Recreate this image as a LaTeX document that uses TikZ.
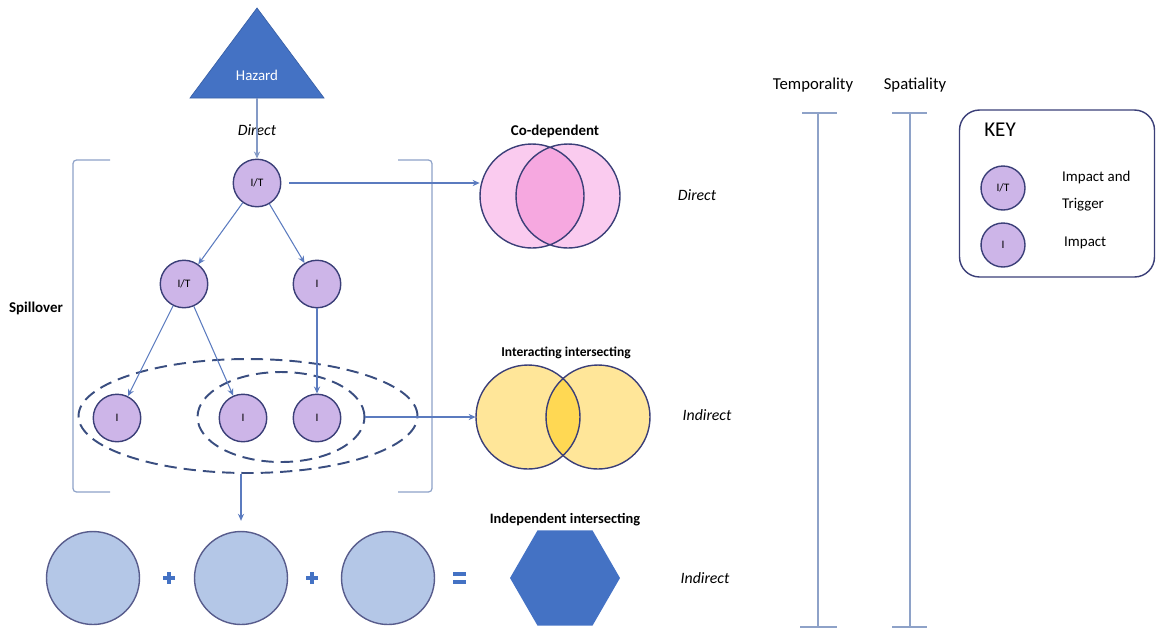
\documentclass[tikz,border=0pt]{standalone}
\usepackage{fontspec}
\setmainfont{Carlito}
\usetikzlibrary{positioning, arrows.meta, shapes.geometric}

\definecolor{hazardblue}{HTML}{4472C4}
\definecolor{linkblue}{HTML}{5B7BBF}
\definecolor{nodeedge}{HTML}{3B3F78}
\definecolor{groupedge}{HTML}{3A4E80}
\definecolor{lavender}{HTML}{CDB5E8}
\definecolor{pinklight}{HTML}{FACBEF}
\definecolor{pinkdark}{HTML}{F6A8E0}
\definecolor{yellowlight}{HTML}{FFE699}
\definecolor{yellowdark}{HTML}{FFD853}
\definecolor{paleblue}{HTML}{B4C7E7}
\definecolor{bracketgray}{HTML}{8EA2C8}

\tikzset{
  impact/.style={draw=nodeedge, fill=lavender, circle, minimum size=0.95cm, inner sep=0pt, line width=0.8pt, font=\fontsize{6.5}{7}\selectfont},
  link/.style={->, draw=linkblue, line width=0.6pt},
  venn/.style={circle, minimum size=2.08cm, inner sep=0pt},
  vennedge/.style={draw=nodeedge, line width=0.8pt},
  sumcircle/.style={circle, draw=nodeedge!85, fill=paleblue, minimum size=1.86cm, inner sep=0pt, line width=0.8pt},
  grouping/.style={draw=groupedge, ellipse, inner sep=0pt, line width=1.1pt, dash pattern=on 7pt off 4pt},
  bracket/.style={draw=bracketgray, line width=0.7pt},
  sign/.style={draw=hazardblue, line width=2.3pt},
  heading/.style={font=\bfseries\fontsize{8.5}{10}\selectfont},
  kind/.style={font=\itshape\fontsize{9}{10}\selectfont},
  scaletitle/.style={font=\fontsize{9.5}{11}\selectfont},
  keytext/.style={font=\fontsize{8.5}{15}\selectfont, align=left, anchor=west}
}

\begin{document}
\begin{tikzpicture}[>={Stealth[length=4pt, width=3.5pt]}, x=0.02cm, y=-0.02cm]
  \useasboundingbox (0,0) rectangle (1158,630);

  % Hazard
  \fill[hazardblue, draw=hazardblue!85!black, line width=0.4pt] (190,98) -- (257,8) -- (324,98) -- cycle;
  \node[text=white, font=\fontsize{8.5}{10}\selectfont] (hazard) at (257,75) {Hazard};
  \coordinate (hazardbase) at (257,98);
  \node[kind] (direct0) at (257,130) {Direct};

  % Impact tree
  \node[impact] (top) at (257,183) {I/T};
  \node[impact] (midT) at (184,284) {I/T};
  \node[impact] (midI) at (317,284) {I};
  \node[impact] (lowA) at (117,418) {I};
  \node[impact] (lowB) at (243,418) {I};
  \node[impact] (lowC) at (317,418) {I};

  % Groupings
  \node[grouping, minimum width=6.78cm, minimum height=2.28cm] (outer) at (248,416) {};
  \node[grouping, minimum width=3.34cm, minimum height=1.8cm] (inner) at (281,417) {};

  % Spillover brackets
  \draw[bracket, rounded corners=2pt] (110,160) -- (73,160) -- (73,492) -- (110,492);
  \draw[bracket, rounded corners=2pt] (398,160) -- (432,160) -- (432,492) -- (398,492);
  \node[heading] (spill) at (36,308) {Spillover};

  % Co-dependent
  \node[venn] (pinkL) at (532,196) {};
  \node[venn] (pinkR) at (568,196) {};
  \fill[pinklight] (pinkL.center) circle[radius=52] (pinkR.center) circle[radius=52];
  \begin{scope}
    \clip (pinkL.center) circle[radius=52];
    \fill[pinkdark] (pinkR.center) circle[radius=52];
  \end{scope}
  \draw[vennedge] (pinkL.center) circle[radius=52] (pinkR.center) circle[radius=52];
  \node[heading] (codep) at (555,131) {Co-dependent};
  \node[kind] (direct1) at (697,195) {Direct};

  % Interacting intersecting
  \node[venn] (yelL) at (528,417) {};
  \node[venn] (yelR) at (598,417) {};
  \fill[yellowlight] (yelL.center) circle[radius=52] (yelR.center) circle[radius=52];
  \begin{scope}
    \clip (yelL.center) circle[radius=52];
    \fill[yellowdark] (yelR.center) circle[radius=52];
  \end{scope}
  \draw[vennedge] (yelL.center) circle[radius=52] (yelR.center) circle[radius=52];
  \node[heading, font=\bfseries\fontsize{7.7}{9}\selectfont] (interact) at (566,353) {Interacting intersecting};
  \node[kind] (indirect1) at (707,415) {Indirect};

  % Independent intersecting
  \node[sumcircle] (sumA) at (93,578) {};
  \node[sumcircle] (sumB) at (241,578) {};
  \node[sumcircle] (sumC) at (388,578) {};
  \draw[sign] (163,578) -- (175,578) (169,572) -- (169,584);
  \draw[sign] (306,578) -- (318,578) (312,572) -- (312,584);
  \draw[sign] (453,574) -- (466,574) (453,582) -- (466,582);
  \node[regular polygon, regular polygon sides=6, fill=hazardblue, minimum size=2.2cm, inner sep=0pt] (outcome) at (565,578) {};
  \node[heading, font=\bfseries\fontsize{8.2}{10}\selectfont] (indep) at (565,520) {Independent intersecting};
  \node[kind] (indirect2) at (705,578) {Indirect};

  % Connections
  \draw[link, draw=bracketgray!80!linkblue] (hazardbase) -- (top);
  \draw[link] (top) -- (midT);
  \draw[link] (top) -- (midI);
  \draw[link] (midT) -- (lowA);
  \draw[link] (midT) -- (lowB);
  \draw[link] (midI) -- (lowC);
  \draw[link, shorten <=0.16cm] (top.east) -- (pinkL.west |- top.east);
  \draw[link] (inner.east) -- (yelL.west);
  \draw[link, shorten >=0.2cm] (sumB.north |- outer.south) -- (sumB.north);

  % Temporality and spatiality
  \node[scaletitle] (temporal) at (813,85) {Temporality};
  \node[scaletitle] (spatial) at (915,85) {Spatiality};
  \draw[bracket] (802,113) -- (837,113) (818,113) -- (818,627) (800,627) -- (837,627);
  \draw[bracket] (892,113) -- (927,113) (910,113) -- (910,627) (892,627) -- (927,627);

  % Key
  \node[draw=nodeedge, rounded corners=0.4cm, line width=0.8pt, minimum width=3.9cm, minimum height=3.34cm] (key) at (1057,193.5) {};
  \node[font=\fontsize{12}{14}\selectfont] (keytitle) at (1000,130) {KEY};
  \node[impact, minimum size=0.88cm] (keyIT) at (1003,188) {I/T};
  \node[impact, minimum size=0.88cm] (keyI) at (1003,245) {I};
  \node[keytext] (keyITtext) at (1056,191) {Impact and\\Trigger};
  \node[keytext] (keyItext) at (1058,243) {Impact};

\end{tikzpicture}
\end{document}
